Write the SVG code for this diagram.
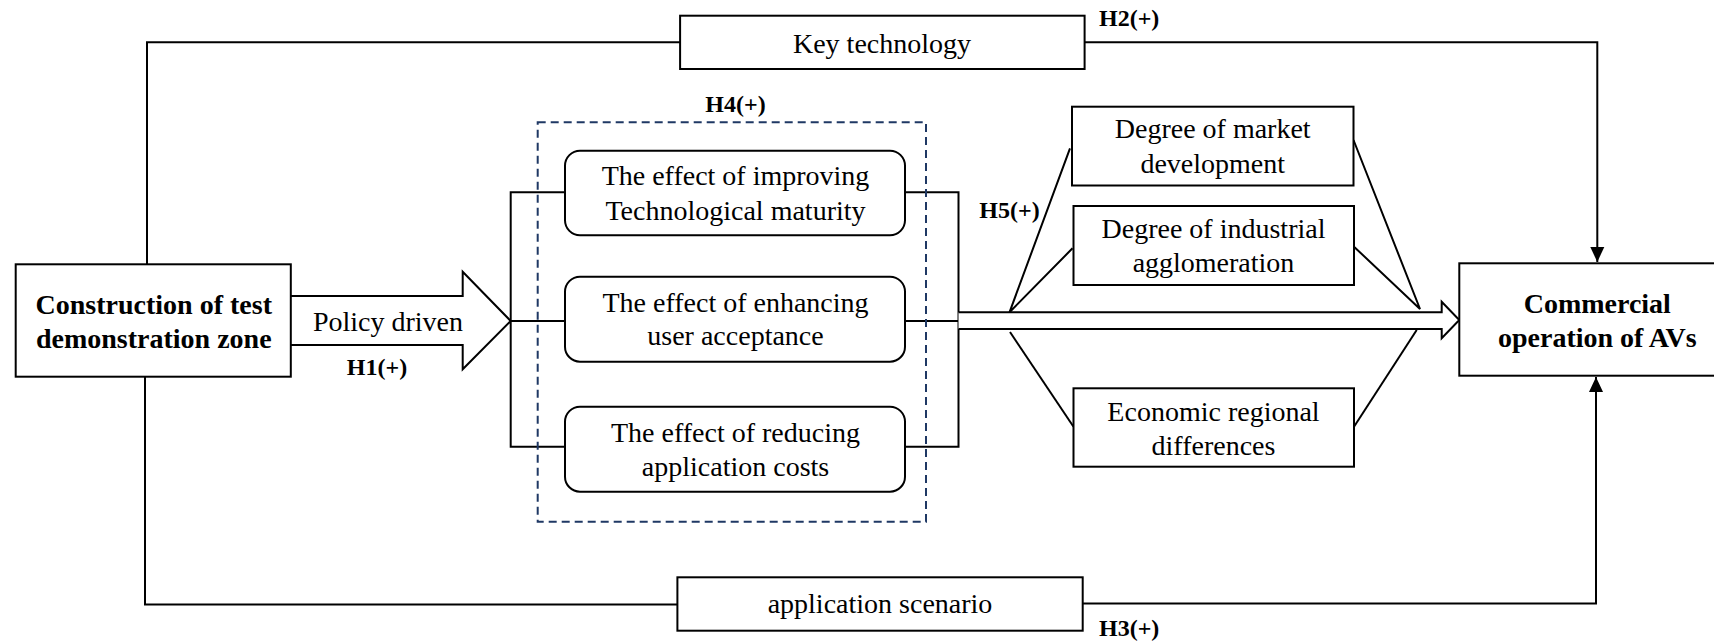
<svg xmlns="http://www.w3.org/2000/svg" width="1714" height="641" viewBox="0 0 1714 641">
<defs>
<style>
.bx{fill:#fff;stroke:#000;stroke-width:2}
.ln{fill:none;stroke:#000;stroke-width:2}
text{font-family:'Liberation Serif','Times New Roman',Times,'DejaVu Serif',serif;fill:#000}
.t{font-size:28px;text-anchor:middle}
.b{font-size:28px;font-weight:bold;text-anchor:middle}
.h{font-size:24px;font-weight:bold}
</style>
<marker id="ah" markerUnits="userSpaceOnUse" markerWidth="16" markerHeight="16" refX="15" refY="7" orient="auto" viewBox="0 0 16 14">
<path d="M0,0 L15,7 L0,14 z" fill="#000"/>
</marker>
</defs>
<rect width="1714" height="641" fill="#fff"/>

<g id="connectors">
<path class="ln" d="M147,264.3 V42.3 H680"/>
<path class="ln" d="M1084.6,42.3 H1597.3 V262" marker-end="url(#ah)"/>
<path class="ln" d="M145,376.7 V604.5 H677.4"/>
<path class="ln" d="M1082.7,603.5 H1596 V377" marker-end="url(#ah)"/>
<path class="bx" d="M290.8,296 H462.7 V271.7 L510.7,321 L462.7,369.3 V345 H290.8"/>
<path class="ln" d="M565,192.3 H510.7 V446.7 H565 M510.7,321 H565"/>
<path class="ln" d="M905,192.3 H958.5 V446.7 H905 M905,321 H958.5"/>
<path class="bx" d="M958.5,312.3 H1441.7 V301.7 L1459.3,320 L1441.7,338.3 V329 H958.5"/>
<path class="ln" d="M1070,148.3 L1009.5,312.3 L1072.5,248.3"/>
<path class="ln" d="M1010,332 L1073.5,426.7"/>
<path class="ln" d="M1353.5,140 L1420,309 L1354,246.7"/>
<path class="ln" d="M1354,426.7 L1416.7,330"/>
</g>

<g id="n_dashed">
<rect x="537.7" y="122.3" width="388.3" height="399.4" fill="none" stroke="#1f3864" stroke-width="2" stroke-dasharray="8 5"/>
<text class="h" x="735.5" y="111.7" text-anchor="middle">H4(+)</text>
</g>

<g id="n_construction">
<rect class="bx" x="15.7" y="264.3" width="275.1" height="112.4"/>
<text class="b" x="153.8" y="314">Construction of test</text>
<text class="b" x="153.8" y="347.7">demonstration zone</text>
</g>

<g id="n_policy">
<text class="t" x="388" y="331">Policy driven</text>
<text class="h" x="377" y="375" text-anchor="middle">H1(+)</text>
</g>

<g id="n_key">
<rect class="bx" x="680.1" y="15.7" width="404.5" height="53.3"/>
<text class="t" x="882" y="52.5">Key technology</text>
<text class="h" x="1099" y="26">H2(+)</text>
</g>

<g id="n_app">
<rect class="bx" x="677.4" y="577.3" width="405.3" height="53.4"/>
<text class="t" x="880" y="613">application scenario</text>
<text class="h" x="1099" y="636">H3(+)</text>
</g>

<g id="n_tech">
<rect class="bx" x="565" y="150.7" width="340" height="84.6" rx="15" ry="15"/>
<text class="t" x="735.5" y="185">The effect of improving</text>
<text class="t" x="735.5" y="219.5">Technological maturity</text>
</g>

<g id="n_user">
<rect class="bx" x="565" y="276.7" width="340" height="85" rx="15" ry="15"/>
<text class="t" x="735.5" y="311.7">The effect of enhancing</text>
<text class="t" x="735.5" y="345">user acceptance</text>
</g>

<g id="n_cost">
<rect class="bx" x="565" y="406.7" width="340" height="85" rx="15" ry="15"/>
<text class="t" x="735.5" y="441.7">The effect of reducing</text>
<text class="t" x="735.5" y="475.7">application costs</text>
</g>

<g id="n_h5">
<text class="h" x="979.3" y="218.3">H5(+)</text>
</g>

<g id="n_market">
<rect class="bx" x="1072" y="106.7" width="281.5" height="78.8"/>
<text class="t" x="1212.7" y="138.3">Degree of market</text>
<text class="t" x="1212.7" y="173.3">development</text>
</g>

<g id="n_industrial">
<rect class="bx" x="1073.5" y="206" width="280.5" height="79"/>
<text class="t" x="1213.5" y="238.3">Degree of industrial</text>
<text class="t" x="1213.5" y="271.5">agglomeration</text>
</g>

<g id="n_economic">
<rect class="bx" x="1073.5" y="388.3" width="280.5" height="78.4"/>
<text class="t" x="1213.5" y="420.7">Economic regional</text>
<text class="t" x="1213.5" y="455">differences</text>
</g>

<g id="n_commercial">
<rect class="bx" x="1459.3" y="263.3" width="290" height="112.4"/>
<text class="b" x="1597.3" y="313.3">Commercial</text>
<text class="b" x="1597.3" y="346.7">operation of AVs</text>
</g>
</svg>
